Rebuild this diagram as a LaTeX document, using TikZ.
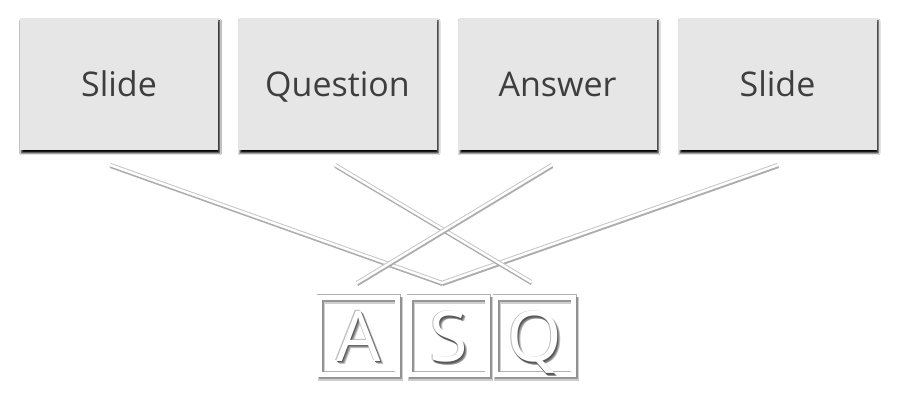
\documentclass[tikz,border=0pt]{standalone}
\usepackage{fontspec}
\setmainfont{Open Sans}
\usetikzlibrary{shadows.blur}
\definecolor{boxfill}{HTML}{E6E6E6}
\definecolor{txt}{HTML}{3E3E3E}
\newcommand\shadowlayer[3]{\rlap{\kern#1\raisebox{#2}{\textcolor{#3}{\csname asqletter\endcsname}}}}
\newcommand\asqglyph[1]{\def\asqletter{#1}%
  \shadowlayer{-0.6pt}{0.6pt}{black!25}%
  \shadowlayer{0.6pt}{-0.6pt}{black!35}%
  \shadowlayer{2.8pt}{-3.2pt}{black!25}%
  \shadowlayer{2pt}{-2.4pt}{black!45}%
  \shadowlayer{1.2pt}{-1.5pt}{black!65}%
  #1}
\tikzset{
  panel/.style={rectangle, fill=boxfill, minimum width=198pt, minimum height=132pt,
    inner sep=0pt, font=\fontsize{34}{40}\selectfont, text=txt, text depth=0pt,
    blur shadow={shadow xshift=1.6pt, shadow yshift=-3pt, shadow blur radius=2pt, shadow opacity=100}},
  wire/.style={draw=white, line width=2.4pt, line cap=round,
    preaction={draw=black!22, line width=4.4pt},
    preaction={draw=black!32, line width=3pt, transform canvas={xshift=0.5pt, yshift=-1.6pt}}},
  logobox/.style={rectangle, draw=white, line width=4.5pt, minimum width=78pt, minimum height=77pt,
    inner sep=0pt, font=\fontsize{70}{72}\selectfont, text=white, text depth=0pt,
    preaction={draw=black!30, line width=6pt},
    preaction={draw=black!60, line width=5pt, opacity=0.8, transform canvas={xshift=1.5pt, yshift=-2.5pt}},
    preaction={draw=black!35, line width=7pt, opacity=0.55, transform canvas={xshift=2pt, yshift=-3.2pt}}}
}
\begin{document}
\begin{tikzpicture}[x=1pt, y=-1pt]
\useasboundingbox[fill=white] (0,0) rectangle (900,403);

% top panels
\node[panel] (s1) at (119,84) {Slide};
\node[panel] (q)  at (337.5,84) {Question};
\node[panel] (a)  at (557.5,84) {Answer};
\node[panel] (s2) at (777.5,84) {Slide};

% wire end points
\coordinate (t1) at (110,165);
\coordinate (t2) at (335,165);
\coordinate (t3) at (552,165);
\coordinate (t4) at (778,165);
\coordinate (v)  at (442,283);
\coordinate (e2) at (531,282);
\coordinate (e3) at (357,283);

\draw[wire] (t1) -- (v);
\draw[wire] (t4) -- (v);
\draw[wire] (t2) -- (e2);
\draw[wire] (t3) -- (e3);

% ASQ logo
\node[logobox] (la) at (358.5,336) {\asqglyph{A}};
\node[logobox] (ls) at (448.5,336) {\asqglyph{S}};
\node[logobox] (lq) at (534.5,336) {\asqglyph{Q}};
\end{tikzpicture}
\end{document}
